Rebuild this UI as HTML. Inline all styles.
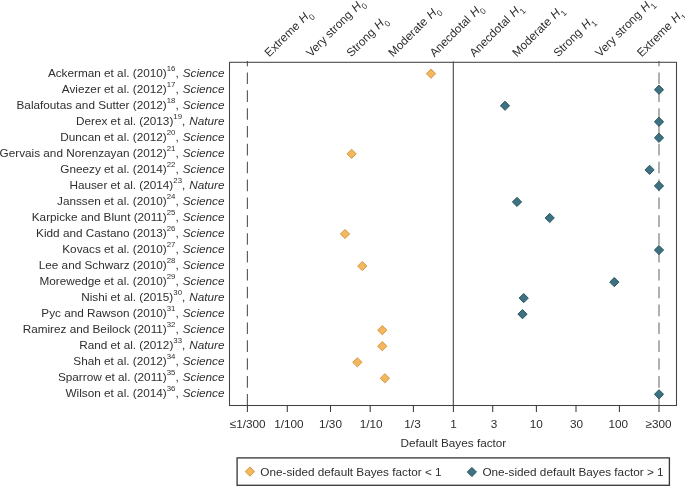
<!DOCTYPE html>
<html><head><meta charset="utf-8"><style>
html,body{margin:0;padding:0;background:#fff;}
body{width:685px;height:486px;overflow:hidden;}
svg{display:block;will-change:transform;}
text{font-family:"Liberation Sans",sans-serif;font-size:11.75px;fill:#2e2e2e;}
</style></head><body>
<svg width="685" height="486" viewBox="0 0 685 486">
<rect width="685" height="486" fill="#fff"/>

<line x1="247.4" y1="405.5" x2="247.4" y2="62.3" stroke="#5c5c5c" stroke-width="1.15" stroke-dasharray="11.6 6.26"/>
<line x1="659.0" y1="405.5" x2="659.0" y2="62.3" stroke="#8f8f8f" stroke-width="1.4" stroke-dasharray="11.6 6.26"/>
<line x1="453.3" y1="61.5" x2="453.3" y2="405.5" stroke="#444" stroke-width="1.1"/>
<line x1="247.4" y1="61.099999999999994" x2="247.4" y2="62.3" stroke="#5c5c5c" stroke-width="1.15"/>
<line x1="659.0" y1="61.099999999999994" x2="659.0" y2="62.3" stroke="#777" stroke-width="1.3"/>
<rect x="229.5" y="62.3" width="447.0" height="343.2" fill="none" stroke="#444" stroke-width="1.05"/>
<line x1="247.40" y1="405.5" x2="247.40" y2="412.0" stroke="#3a3a3a" stroke-width="1.05"/>
<text x="247.70" y="428.4" text-anchor="middle">≤1/300</text>
<line x1="287.30" y1="405.5" x2="287.30" y2="412.0" stroke="#3a3a3a" stroke-width="1.05"/>
<text x="288.90" y="428.4" text-anchor="middle">1/100</text>
<line x1="330.50" y1="405.5" x2="330.50" y2="412.0" stroke="#3a3a3a" stroke-width="1.05"/>
<text x="330.50" y="428.4" text-anchor="middle">1/30</text>
<line x1="370.20" y1="405.5" x2="370.20" y2="412.0" stroke="#3a3a3a" stroke-width="1.05"/>
<text x="371.20" y="428.4" text-anchor="middle">1/10</text>
<line x1="413.40" y1="405.5" x2="413.40" y2="412.0" stroke="#3a3a3a" stroke-width="1.05"/>
<text x="412.50" y="428.4" text-anchor="middle">1/3</text>
<line x1="453.40" y1="405.5" x2="453.40" y2="412.0" stroke="#3a3a3a" stroke-width="1.05"/>
<text x="453.50" y="428.4" text-anchor="middle">1</text>
<line x1="492.70" y1="405.5" x2="492.70" y2="412.0" stroke="#3a3a3a" stroke-width="1.05"/>
<text x="494.10" y="428.4" text-anchor="middle">3</text>
<line x1="536.40" y1="405.5" x2="536.40" y2="412.0" stroke="#3a3a3a" stroke-width="1.05"/>
<text x="536.20" y="428.4" text-anchor="middle">10</text>
<line x1="576.00" y1="405.5" x2="576.00" y2="412.0" stroke="#3a3a3a" stroke-width="1.05"/>
<text x="576.60" y="428.4" text-anchor="middle">30</text>
<line x1="619.40" y1="405.5" x2="619.40" y2="412.0" stroke="#3a3a3a" stroke-width="1.05"/>
<text x="618.30" y="428.4" text-anchor="middle">100</text>
<line x1="659.00" y1="405.5" x2="659.00" y2="412.0" stroke="#3a3a3a" stroke-width="1.05"/>
<text x="658.60" y="428.4" text-anchor="middle">≥300</text>
<text x="453.4" y="446.8" text-anchor="middle">Default Bayes factor</text>
<text transform="translate(269.34,57.5) rotate(-45)">Extreme <tspan font-style="italic" dx="1">H</tspan><tspan font-size="8.4" dx="-0.3" dy="4.3">0</tspan></text>
<text transform="translate(310.92,57.5) rotate(-45)">Very strong <tspan font-style="italic" dx="1">H</tspan><tspan font-size="8.4" dx="-0.3" dy="4.3">0</tspan></text>
<text transform="translate(351.30,57.5) rotate(-45)">Strong <tspan font-style="italic" dx="1">H</tspan><tspan font-size="8.4" dx="-0.3" dy="4.3">0</tspan></text>
<text transform="translate(393.08,57.5) rotate(-45)">Moderate <tspan font-style="italic" dx="1">H</tspan><tspan font-size="8.4" dx="-0.3" dy="4.3">0</tspan></text>
<text transform="translate(434.46,57.5) rotate(-45)">Anecdotal <tspan font-style="italic" dx="1">H</tspan><tspan font-size="8.4" dx="-0.3" dy="4.3">0</tspan></text>
<text transform="translate(474.14,57.5) rotate(-45)">Anecdotal <tspan font-style="italic" dx="1">H</tspan><tspan font-size="8.4" dx="-0.3" dy="4.3">1</tspan></text>
<text transform="translate(516.92,57.5) rotate(-45)">Moderate <tspan font-style="italic" dx="1">H</tspan><tspan font-size="8.4" dx="-0.3" dy="4.3">1</tspan></text>
<text transform="translate(558.20,57.5) rotate(-45)">Strong <tspan font-style="italic" dx="1">H</tspan><tspan font-size="8.4" dx="-0.3" dy="4.3">1</tspan></text>
<text transform="translate(600.08,57.5) rotate(-45)">Very strong <tspan font-style="italic" dx="1">H</tspan><tspan font-size="8.4" dx="-0.3" dy="4.3">1</tspan></text>
<text transform="translate(641.66,57.5) rotate(-45)">Extreme <tspan font-style="italic" dx="1">H</tspan><tspan font-size="8.4" dx="-0.3" dy="4.3">1</tspan></text>
<text x="224.5" y="76.50" text-anchor="end">Ackerman et al. (2010)<tspan font-size="7.8" dy="-5.2">16</tspan><tspan dy="5.2">, </tspan><tspan font-style="italic" dx="0.7">Science</tspan></text>
<path d="M431.00 69.10L435.60 73.70L431.00 78.30L426.40 73.70Z" fill="#f3b75e" stroke="#cf9038" stroke-width="0.9"/>
<text x="224.5" y="92.50" text-anchor="end">Aviezer et al. (2012)<tspan font-size="7.8" dy="-5.2">17</tspan><tspan dy="5.2">, </tspan><tspan font-style="italic" dx="0.7">Science</tspan></text>
<path d="M659.00 85.13L663.60 89.73L659.00 94.33L654.40 89.73Z" fill="#3d7282" stroke="#1e4a57" stroke-width="0.9"/>
<text x="224.5" y="108.50" text-anchor="end">Balafoutas and Sutter (2012)<tspan font-size="7.8" dy="-5.2">18</tspan><tspan dy="5.2">, </tspan><tspan font-style="italic" dx="0.7">Science</tspan></text>
<path d="M505.00 101.16L509.60 105.76L505.00 110.36L500.40 105.76Z" fill="#3d7282" stroke="#1e4a57" stroke-width="0.9"/>
<text x="224.5" y="124.50" text-anchor="end">Derex et al. (2013)<tspan font-size="7.8" dy="-5.2">19</tspan><tspan dy="5.2">, </tspan><tspan font-style="italic" dx="0.7">Nature</tspan></text>
<path d="M659.00 117.19L663.60 121.79L659.00 126.39L654.40 121.79Z" fill="#3d7282" stroke="#1e4a57" stroke-width="0.9"/>
<text x="224.5" y="140.50" text-anchor="end">Duncan et al. (2012)<tspan font-size="7.8" dy="-5.2">20</tspan><tspan dy="5.2">, </tspan><tspan font-style="italic" dx="0.7">Science</tspan></text>
<path d="M659.00 133.22L663.60 137.82L659.00 142.42L654.40 137.82Z" fill="#3d7282" stroke="#1e4a57" stroke-width="0.9"/>
<text x="224.5" y="156.50" text-anchor="end">Gervais and Norenzayan (2012)<tspan font-size="7.8" dy="-5.2">21</tspan><tspan dy="5.2">, </tspan><tspan font-style="italic" dx="0.7">Science</tspan></text>
<path d="M351.60 149.25L356.20 153.85L351.60 158.45L347.00 153.85Z" fill="#f3b75e" stroke="#cf9038" stroke-width="0.9"/>
<text x="224.5" y="172.50" text-anchor="end">Gneezy et al. (2014)<tspan font-size="7.8" dy="-5.2">22</tspan><tspan dy="5.2">, </tspan><tspan font-style="italic" dx="0.7">Science</tspan></text>
<path d="M649.60 165.28L654.20 169.88L649.60 174.48L645.00 169.88Z" fill="#3d7282" stroke="#1e4a57" stroke-width="0.9"/>
<text x="224.5" y="188.50" text-anchor="end">Hauser et al. (2014)<tspan font-size="7.8" dy="-5.2">23</tspan><tspan dy="5.2">, </tspan><tspan font-style="italic" dx="0.7">Nature</tspan></text>
<path d="M659.00 181.31L663.60 185.91L659.00 190.51L654.40 185.91Z" fill="#3d7282" stroke="#1e4a57" stroke-width="0.9"/>
<text x="224.5" y="204.50" text-anchor="end">Janssen et al. (2010)<tspan font-size="7.8" dy="-5.2">24</tspan><tspan dy="5.2">, </tspan><tspan font-style="italic" dx="0.7">Science</tspan></text>
<path d="M517.00 197.34L521.60 201.94L517.00 206.54L512.40 201.94Z" fill="#3d7282" stroke="#1e4a57" stroke-width="0.9"/>
<text x="224.5" y="220.50" text-anchor="end">Karpicke and Blunt (2011)<tspan font-size="7.8" dy="-5.2">25</tspan><tspan dy="5.2">, </tspan><tspan font-style="italic" dx="0.7">Science</tspan></text>
<path d="M549.70 213.37L554.30 217.97L549.70 222.57L545.10 217.97Z" fill="#3d7282" stroke="#1e4a57" stroke-width="0.9"/>
<text x="224.5" y="236.50" text-anchor="end">Kidd and Castano (2013)<tspan font-size="7.8" dy="-5.2">26</tspan><tspan dy="5.2">, </tspan><tspan font-style="italic" dx="0.7">Science</tspan></text>
<path d="M345.00 229.40L349.60 234.00L345.00 238.60L340.40 234.00Z" fill="#f3b75e" stroke="#cf9038" stroke-width="0.9"/>
<text x="224.5" y="252.50" text-anchor="end">Kovacs et al. (2010)<tspan font-size="7.8" dy="-5.2">27</tspan><tspan dy="5.2">, </tspan><tspan font-style="italic" dx="0.7">Science</tspan></text>
<path d="M659.00 245.43L663.60 250.03L659.00 254.63L654.40 250.03Z" fill="#3d7282" stroke="#1e4a57" stroke-width="0.9"/>
<text x="224.5" y="268.50" text-anchor="end">Lee and Schwarz (2010)<tspan font-size="7.8" dy="-5.2">28</tspan><tspan dy="5.2">, </tspan><tspan font-style="italic" dx="0.7">Science</tspan></text>
<path d="M362.30 261.46L366.90 266.06L362.30 270.66L357.70 266.06Z" fill="#f3b75e" stroke="#cf9038" stroke-width="0.9"/>
<text x="224.5" y="284.50" text-anchor="end">Morewedge et al. (2010)<tspan font-size="7.8" dy="-5.2">29</tspan><tspan dy="5.2">, </tspan><tspan font-style="italic" dx="0.7">Science</tspan></text>
<path d="M614.30 277.49L618.90 282.09L614.30 286.69L609.70 282.09Z" fill="#3d7282" stroke="#1e4a57" stroke-width="0.9"/>
<text x="224.5" y="300.50" text-anchor="end">Nishi et al. (2015)<tspan font-size="7.8" dy="-5.2">30</tspan><tspan dy="5.2">, </tspan><tspan font-style="italic" dx="0.7">Nature</tspan></text>
<path d="M523.70 293.52L528.30 298.12L523.70 302.72L519.10 298.12Z" fill="#3d7282" stroke="#1e4a57" stroke-width="0.9"/>
<text x="224.5" y="316.50" text-anchor="end">Pyc and Rawson (2010)<tspan font-size="7.8" dy="-5.2">31</tspan><tspan dy="5.2">, </tspan><tspan font-style="italic" dx="0.7">Science</tspan></text>
<path d="M522.50 309.55L527.10 314.15L522.50 318.75L517.90 314.15Z" fill="#3d7282" stroke="#1e4a57" stroke-width="0.9"/>
<text x="224.5" y="332.50" text-anchor="end">Ramirez and Beilock (2011)<tspan font-size="7.8" dy="-5.2">32</tspan><tspan dy="5.2">, </tspan><tspan font-style="italic" dx="0.7">Science</tspan></text>
<path d="M382.30 325.58L386.90 330.18L382.30 334.78L377.70 330.18Z" fill="#f3b75e" stroke="#cf9038" stroke-width="0.9"/>
<text x="224.5" y="348.50" text-anchor="end">Rand et al. (2012)<tspan font-size="7.8" dy="-5.2">33</tspan><tspan dy="5.2">, </tspan><tspan font-style="italic" dx="0.7">Nature</tspan></text>
<path d="M382.30 341.61L386.90 346.21L382.30 350.81L377.70 346.21Z" fill="#f3b75e" stroke="#cf9038" stroke-width="0.9"/>
<text x="224.5" y="364.50" text-anchor="end">Shah et al. (2012)<tspan font-size="7.8" dy="-5.2">34</tspan><tspan dy="5.2">, </tspan><tspan font-style="italic" dx="0.7">Science</tspan></text>
<path d="M357.30 357.64L361.90 362.24L357.30 366.84L352.70 362.24Z" fill="#f3b75e" stroke="#cf9038" stroke-width="0.9"/>
<text x="224.5" y="380.50" text-anchor="end">Sparrow et al. (2011)<tspan font-size="7.8" dy="-5.2">35</tspan><tspan dy="5.2">, </tspan><tspan font-style="italic" dx="0.7">Science</tspan></text>
<path d="M384.90 373.67L389.50 378.27L384.90 382.87L380.30 378.27Z" fill="#f3b75e" stroke="#cf9038" stroke-width="0.9"/>
<text x="224.5" y="396.50" text-anchor="end">Wilson et al. (2014)<tspan font-size="7.8" dy="-5.2">36</tspan><tspan dy="5.2">, </tspan><tspan font-style="italic" dx="0.7">Science</tspan></text>
<path d="M659.00 389.70L663.60 394.30L659.00 398.90L654.40 394.30Z" fill="#3d7282" stroke="#1e4a57" stroke-width="0.9"/>
<rect x="237.1" y="457.9" width="432.3" height="27.4" fill="none" stroke="#3c3c3c" stroke-width="1.35"/>
<path d="M249.90 467.00L254.50 471.60L249.90 476.20L245.30 471.60Z" fill="#f3b75e" stroke="#cf9038" stroke-width="0.9"/>
<text x="260.3" y="476.2">One-sided default Bayes factor &lt; 1</text>
<path d="M471.90 467.40L476.50 472.00L471.90 476.60L467.30 472.00Z" fill="#3d7282" stroke="#1e4a57" stroke-width="0.9"/>
<text x="482.4" y="476.2">One-sided default Bayes factor &gt; 1</text>
</svg></body></html>
